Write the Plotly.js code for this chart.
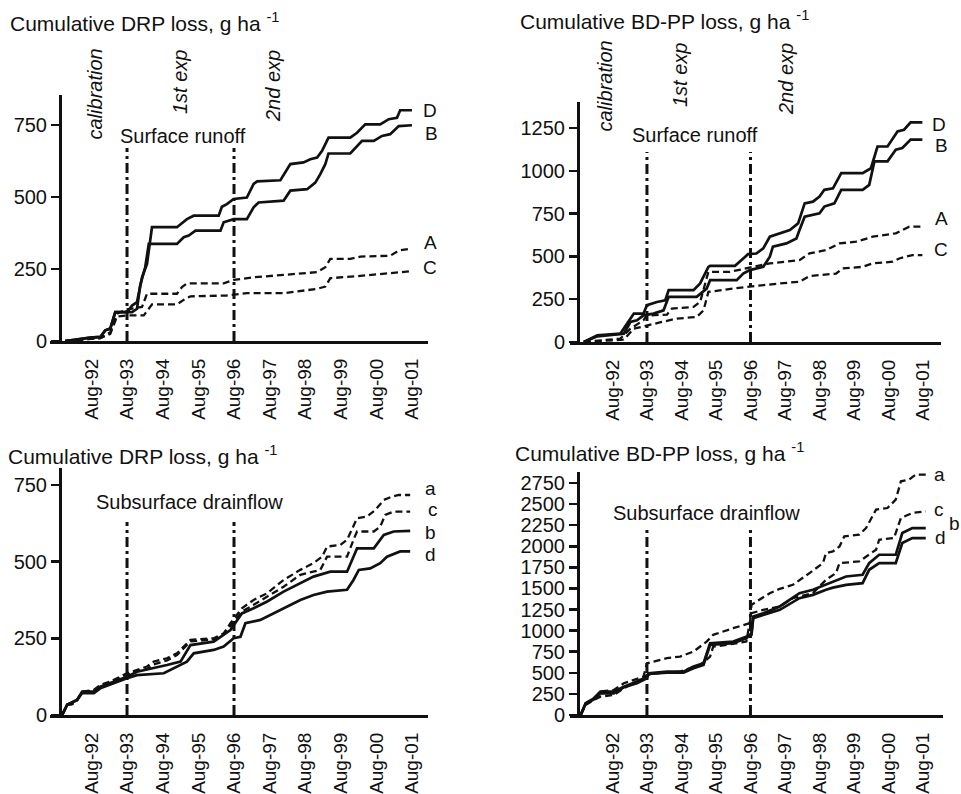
<!DOCTYPE html>
<html>
<head>
<meta charset="utf-8">
<script src="https://cdn.plot.ly/plotly-3.0.1.min.js"></script>
<style>html,body{margin:0;padding:0;background:#fff;}#chart{width:961px;height:794px;}</style>
</head>
<body>
<div id="chart"></div>
<script>
// ---------- tick labels (decimal years, 1 August) ----------
const tickYears = [1992.58, 1993.58, 1994.58, 1995.58, 1996.58, 1997.58, 1998.58, 1999.58, 2000.58, 2001.58];
const tickText = ['Aug-92','Aug-93','Aug-94','Aug-95','Aug-96','Aug-97','Aug-98','Aug-99','Aug-00','Aug-01'];
const eventYears = [1993.58, 1996.58];   // start of 1st and 2nd experiment

// ---------- Panel 1: Surface runoff, cumulative DRP ----------
const p1D_x = [1991.85,1992.27,1992.55,1992.83,1992.97,1993.11,1993.25,1993.58,1993.72,1993.86,1994.00,1994.14,1994.28,1994.98,1995.12,1995.26,1995.45,1996.15,1996.24,1996.38,1996.57,1996.94,1997.13,1997.23,1997.88,1998.16,1998.53,1998.72,1998.91,1999.05,1999.23,1999.84,2000.03,2000.26,2000.68,2000.92,2001.15,2001.24,2001.57];
const p1D_y = [0,8,12,14,37,43,100,100,123,135,221,268,395,395,408,423,435,435,466,475,493,498,545,554,558,614,620,631,637,660,706,706,723,752,752,770,775,801,801];
const p1B_x = [1991.85,1992.27,1992.55,1992.83,1992.97,1993.11,1993.25,1993.72,1993.86,1993.95,1994.09,1994.19,1994.28,1994.98,1995.17,1995.31,1995.50,1996.20,1996.29,1996.57,1996.94,1997.13,1997.27,1997.97,1998.16,1998.63,1998.86,1999.00,1999.14,1999.23,1999.84,1999.98,2000.17,2000.50,2000.73,2000.96,2001.20,2001.57];
const p1B_y = [0,8,12,14,37,43,100,100,112,193,256,337,337,337,360,366,383,383,412,423,423,464,481,487,522,527,550,579,614,651,651,671,695,695,712,718,746,749];
const p1A_x = [1991.85,1992.83,1993.11,1993.30,1993.58,1994.00,1994.14,1994.98,1995.12,1995.26,1996.29,1996.57,1997.13,1998.07,1998.91,1999.14,1999.28,1999.84,2000.12,2000.96,2001.20,2001.52];
const p1A_y = [0,10,30,95,110,118,164,164,187,200,200,212,221,231,239,256,285,285,293,296,314,320];
const p1C_x = [1991.85,1992.83,1993.11,1993.30,1993.58,1994.05,1994.28,1994.98,1995.22,1995.36,1996.38,1996.94,1997.97,1998.91,1999.14,1999.28,2000.12,2001.24,2001.52];
const p1C_y = [0,10,25,85,89,89,127,127,147,155,158,166,166,181,189,218,226,239,242];

// ---------- Panel 2: Surface runoff, cumulative BD-PP ----------
const p2D_x = [1991.75,1992.14,1992.81,1993.00,1993.20,1993.48,1993.58,1993.87,1994.11,1994.21,1994.93,1995.12,1995.36,1995.41,1996.13,1996.37,1996.51,1996.75,1996.95,1997.14,1997.47,1997.72,1997.96,1998.15,1998.39,1998.58,1998.72,1998.97,1999.21,1999.83,2000.07,2000.26,2000.55,2000.84,2001.03,2001.22,2001.56];
const p2D_y = [0,39,49,107,166,166,215,234,244,303,303,342,439,445,445,488,513,517,547,615,635,654,693,810,820,850,889,898,986,986,1015,1142,1142,1230,1240,1283,1283];
const p2B_x = [1991.75,1992.14,1992.91,1993.10,1993.29,1993.48,1993.77,1994.06,1994.21,1995.02,1995.31,1995.41,1996.18,1996.37,1996.56,1996.95,1997.14,1997.23,1997.62,1997.91,1998.00,1998.15,1998.58,1998.72,1999.01,1999.21,1999.83,2000.02,2000.17,2000.55,2000.79,2000.98,2001.22,2001.56];
const p2B_y = [0,33,49,117,127,156,166,185,264,264,312,361,361,400,420,439,498,557,576,605,654,732,752,791,810,889,889,918,1055,1055,1123,1133,1182,1182];
const p2A_x = [1991.75,1992.81,1993.10,1993.48,1993.58,1994.16,1994.30,1994.93,1995.12,1995.36,1995.98,1996.46,1997.14,1998.00,1998.29,1998.77,1999.16,1999.64,2000.12,2000.79,2001.18,2001.56];
const p2A_y = [0,20,78,127,155,160,195,205,234,410,410,430,459,478,518,537,576,586,615,635,674,674];
const p2C_x = [1991.75,1992.91,1993.20,1993.58,1994.01,1994.45,1995.02,1995.22,1995.36,1996.08,1996.46,1997.43,1998.00,1998.29,1999.06,1999.25,1999.83,2000.12,2000.70,2000.89,2001.27,2001.56];
const p2C_y = [0,14,78,98,117,137,146,185,293,312,322,342,352,385,400,430,439,459,469,488,508,508];

// ---------- Panel 3: Subsurface drainflow, cumulative DRP ----------
const p3a_x = [1991.76,1991.90,1992.04,1992.18,1992.32,1992.65,1992.83,1993.11,1993.58,1993.86,1994.14,1994.33,1994.70,1994.98,1995.36,1996.01,1996.29,1996.48,1996.62,1996.80,1997.13,1997.51,1997.97,1998.44,1998.81,1999.05,1999.19,1999.56,1999.75,1999.93,2000.03,2000.31,2000.54,2000.78,2001.01,2001.20,2001.52];
const p3a_y = [0,33,35,49,76,82,98,109,136,147,158,174,185,201,245,250,266,299,321,348,375,397,440,473,495,516,549,554,571,614,641,647,668,701,712,717,717];
const p3c_x = [1991.76,1991.90,1992.04,1992.18,1992.32,1992.65,1992.83,1993.11,1993.58,1993.86,1994.14,1994.33,1994.70,1994.98,1995.36,1996.01,1996.29,1996.48,1996.62,1996.80,1997.13,1997.97,1998.44,1999.00,1999.19,1999.75,1999.93,2000.03,2000.50,2000.68,2000.82,2001.06,2001.52];
const p3c_y = [0,33,35,49,74,80,95,105,130,143,150,165,178,195,240,246,262,290,310,337,359,418,457,473,516,516,571,598,598,614,652,663,663];
const p3b_x = [1991.76,1991.90,1992.18,1992.32,1992.65,1992.83,1993.58,1993.86,1994.70,1995.08,1995.36,1996.01,1996.48,1996.62,1996.80,1997.13,1997.51,1997.97,1998.44,1998.81,1999.28,1999.75,1999.93,2000.03,2000.50,2000.78,2001.06,2001.52];
const p3b_y = [0,33,49,76,76,92,125,141,163,174,228,239,277,299,331,348,370,402,429,451,467,467,516,543,543,587,598,600];
const p3d_x = [1991.76,1991.90,1992.18,1992.32,1992.65,1992.83,1993.58,1993.86,1994.61,1994.98,1995.26,1995.45,1996.01,1996.29,1996.57,1996.76,1996.90,1997.32,1997.69,1998.07,1998.44,1998.81,1999.19,1999.75,1999.93,2000.08,2000.40,2000.68,2000.87,2001.24,2001.52];
const p3d_y = [0,33,49,71,71,87,120,130,136,158,174,201,212,223,250,255,299,310,332,353,375,391,402,408,440,473,478,495,516,533,533];

// ---------- Panel 4: Subsurface drainflow, cumulative BD-PP ----------
const p4a_x = [1991.66,1991.80,1991.95,1992.14,1992.23,1992.62,1992.91,1993.20,1993.48,1993.58,1993.97,1994.16,1994.54,1994.93,1995.31,1995.50,1996.08,1996.56,1996.61,1996.85,1997.14,1997.43,1997.81,1998.29,1998.68,1998.77,1998.97,1999.16,1999.30,1999.73,1999.93,2000.22,2000.55,2000.79,2000.94,2001.18,2001.37,2001.66];
const p4a_y = [0,138,178,218,277,297,376,415,455,613,653,673,692,752,870,950,1029,1088,1306,1365,1444,1496,1543,1682,1800,1919,1939,1998,2117,2137,2216,2434,2453,2552,2770,2790,2849,2849];
const p4c_x = [1991.66,1991.80,1992.04,1992.23,1992.62,1992.91,1993.29,1993.58,1993.87,1994.54,1995.12,1995.41,1995.50,1995.89,1996.46,1996.61,1996.95,1997.43,1997.81,1998.39,1998.77,1999.06,1999.16,1999.73,2000.22,2000.31,2000.74,2000.94,2001.27,2001.66];
const p4c_y = [0,119,178,218,237,317,396,475,495,514,594,692,811,831,870,1207,1246,1286,1385,1444,1603,1682,1800,1820,1959,2077,2097,2335,2394,2414];
const p4b_x = [1991.66,1991.80,1992.04,1992.23,1992.62,1992.91,1993.29,1993.58,1993.63,1994.16,1994.64,1994.93,1995.22,1995.41,1996.08,1996.46,1996.61,1996.66,1996.95,1997.43,1998.00,1998.39,1998.77,1998.97,1999.35,1999.83,2000.02,2000.31,2000.79,2000.98,2001.27,2001.66];
const p4b_y = [0,138,198,277,277,336,396,455,495,514,514,574,613,851,870,930,950,1167,1207,1286,1444,1484,1543,1583,1642,1662,1800,1899,1899,2157,2216,2216];
const p4d_x = p4b_x;
const p4d_y = [0,130,186,257,257,328,376,435,487,502,502,554,594,831,851,910,969,1148,1187,1246,1385,1424,1484,1510,1543,1563,1721,1800,1800,2038,2097,2097];

// heights reached by the vertical experiment markers in each panel
const eventTop = [670, 1110, 629, 2193];

// ---------- styling ----------
const FONT = '"Liberation Sans", Arial, Helvetica, sans-serif';
const INK = '#111';
const W = 961, H = 794;
const px = v => v / W;
const py = v => 1 - v / H;

function series(x, y, dashed, xa, ya) {
  return {x, y, xaxis: xa, yaxis: ya, type: 'scatter', mode: 'lines', hoverinfo: 'skip',
    line: {color: INK, width: dashed ? 2.3 : 2.7, dash: dashed ? '7px,4px' : 'solid'}};
}
function events(top, xa, ya) {
  return {x: [eventYears[0], eventYears[0], null, eventYears[1], eventYears[1]],
    y: [0, top, null, 0, top], xaxis: xa, yaxis: ya, type: 'scatter', mode: 'lines',
    hoverinfo: 'skip', line: {color: INK, width: 3, dash: '10px,4px,3px,4px'}};
}

const data = [
  events(eventTop[0], 'x', 'y'),
  series(p1A_x, p1A_y, true, 'x', 'y'), series(p1C_x, p1C_y, true, 'x', 'y'),
  series(p1B_x, p1B_y, false, 'x', 'y'), series(p1D_x, p1D_y, false, 'x', 'y'),
  events(eventTop[1], 'x2', 'y2'),
  series(p2A_x, p2A_y, true, 'x2', 'y2'), series(p2C_x, p2C_y, true, 'x2', 'y2'),
  series(p2B_x, p2B_y, false, 'x2', 'y2'), series(p2D_x, p2D_y, false, 'x2', 'y2'),
  events(eventTop[2], 'x3', 'y3'),
  series(p3a_x, p3a_y, true, 'x3', 'y3'), series(p3c_x, p3c_y, true, 'x3', 'y3'),
  series(p3b_x, p3b_y, false, 'x3', 'y3'), series(p3d_x, p3d_y, false, 'x3', 'y3'),
  events(eventTop[3], 'x4', 'y4'),
  series(p4a_x, p4a_y, true, 'x4', 'y4'), series(p4c_x, p4c_y, true, 'x4', 'y4'),
  series(p4b_x, p4b_y, false, 'x4', 'y4'), series(p4d_x, p4d_y, false, 'x4', 'y4')
];

function xaxis(d0, d1, range, anchor) {
  return {domain: [px(d0), px(d1)], range, anchor, tickmode: 'array', tickvals: tickYears, ticktext: tickText,
    tickangle: -90, ticks: 'outside', ticklen: 7, tickcolor: 'rgba(0,0,0,0)',
    showline: true, linewidth: 3, linecolor: INK, showgrid: false, zeroline: false,
    tickfont: {family: FONT, size: 19, color: INK}, fixedrange: true};
}
function yaxis(top, bottom, range, step, pos) {
  const vals = [];
  for (let v = 0; v <= range[1]; v += step) vals.push(v);
  return {domain: [py(bottom), py(top)], range, anchor: 'free', position: px(pos),
    tickmode: 'array', tickvals: vals, ticks: 'outside', ticklen: 8, tickwidth: 2.5, tickcolor: INK,
    showline: true, linewidth: 3, linecolor: INK, showgrid: false, zeroline: false,
    tickfont: {family: FONT, size: 20, color: INK}, fixedrange: true};
}

function note(text, x, y, opt) {
  return Object.assign({text, xref: 'paper', yref: 'paper', x: px(x), y: py(y), showarrow: false,
    xanchor: 'center', yanchor: 'middle', font: {family: FONT, size: 20, color: INK}}, opt || {});
}
const title = (t, x, y) => note(t, x, y, {xanchor: 'left', font: {family: FONT, size: 21, color: INK}});
const italic = (t, x, top) => note('<i>' + t + '</i>', x, top, {textangle: -90, yanchor: 'top',
  font: {family: FONT, size: 20, color: INK}});
const lab = (t, x, y) => note(t, x, y, {font: {family: FONT, size: 19, color: INK}});

const annotations = [
  title('Cumulative DRP loss, g ha <sup>-1</sup>', 8, 22),
  title('Cumulative BD-PP loss, g ha <sup>-1</sup>', 518, 20),
  title('Cumulative DRP loss, g ha <sup>-1</sup>', 6, 455),
  title('Cumulative BD-PP loss, g ha <sup>-1</sup>', 513, 452),
  note('Surface runoff', 183, 136), note('Surface runoff', 695, 135),
  note('Subsurface drainflow', 189, 502), note('Subsurface drainflow', 706, 513),
  italic('calibration', 95, 47), italic('1st exp', 180, 48), italic('2nd exp', 273, 48),
  italic('calibration', 605, 39), italic('1st exp', 680, 41), italic('2nd exp', 786, 41),
  lab('D', 430, 110), lab('B', 431, 134), lab('A', 430, 243), lab('C', 430, 267),
  lab('D', 939, 124), lab('B', 941, 145), lab('A', 941, 219), lab('C', 941, 250),
  lab('a', 430, 489), lab('c', 433, 509), lab('b', 430, 532), lab('d', 430, 554),
  lab('a', 939, 474), lab('c', 939, 509), lab('b', 954, 523), lab('d', 940, 537)
];

const layout = {
  width: W, height: H, autosize: false, showlegend: false,
  margin: {l: 0, r: 0, t: 0, b: 0}, paper_bgcolor: '#fff', plot_bgcolor: 'rgba(0,0,0,0)',
  xaxis: xaxis(50, 428, [1991.42, 2002.02], 'y'),
  yaxis: yaxis(95, 341, [0, 854], 250, 60),
  xaxis2: xaxis(570, 941, [1991.35, 2002.10], 'y2'),
  yaxis2: yaxis(102, 342, [0, 1402], 250, 578),
  xaxis3: xaxis(50, 428, [1991.42, 2002.02], 'y3'),
  yaxis3: yaxis(468, 715, [0, 805], 250, 60),
  xaxis4: xaxis(570, 943, [1991.35, 2002.16], 'y4'),
  yaxis4: yaxis(472, 715, [0, 2880], 250, 578),
  annotations
};

Plotly.newPlot('chart', data, layout, {displayModeBar: false, staticPlot: true});
</script>
</body>
</html>
